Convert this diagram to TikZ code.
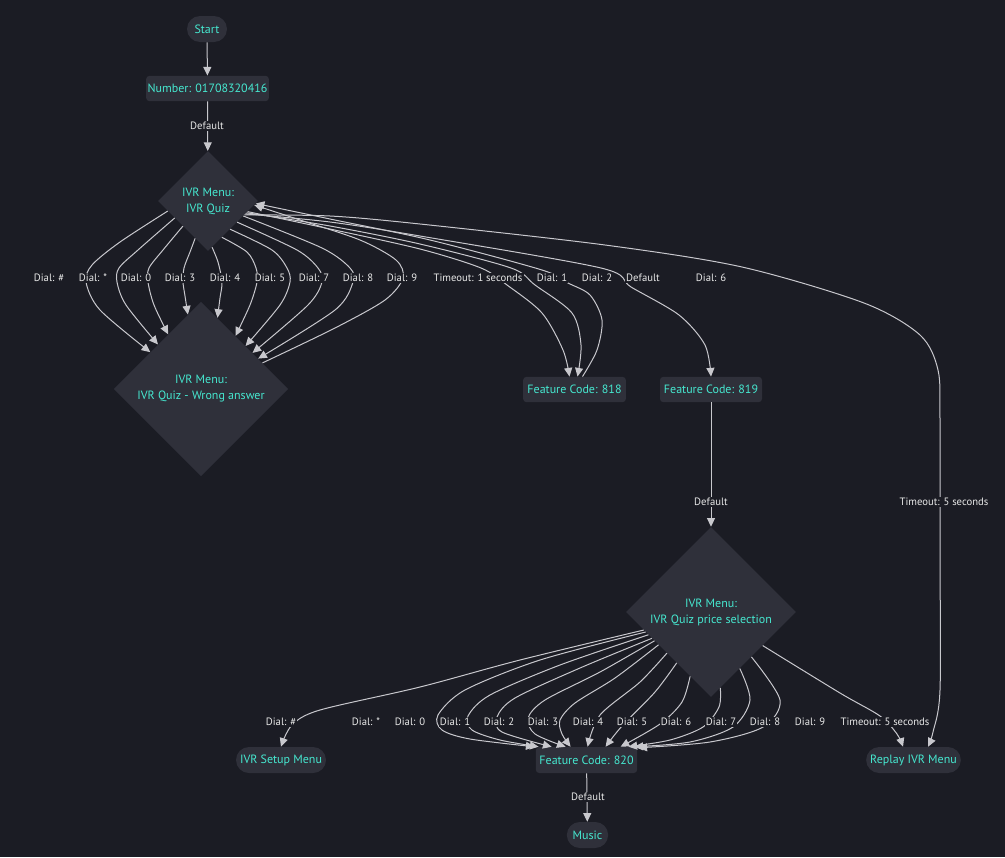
\documentclass[tikz,border=0pt]{standalone}
\usepackage{fontspec}
\setmainfont{PT Sans}
\usetikzlibrary{shapes.geometric,arrows.meta,calc}
\definecolor{bgc}{RGB}{27,28,36}
\definecolor{nodefill}{RGB}{47,48,58}
\definecolor{nodetext}{RGB}{70,232,208}
\definecolor{edgecol}{RGB}{200,200,205}
\definecolor{labelcol}{RGB}{232,232,232}
\begin{document}
\begin{tikzpicture}[x=0.75pt,y=-0.75pt,
 box/.style={fill=nodefill, rounded corners=2.5pt, text=nodetext, font=\fontsize{9}{11}\selectfont, minimum height=19pt, inner sep=0pt},
 pill/.style={fill=nodefill, rounded corners=9.75pt, text=nodetext, font=\fontsize{9}{11}\selectfont, minimum height=19.5pt, inner sep=0pt},
 dia/.style={diamond, shape aspect=1, fill=nodefill, text=nodetext, align=center, inner sep=0pt, font=\fontsize{9}{12}\selectfont},
 lbl/.style={fill=bgc, text=labelcol, inner sep=1pt, font=\fontsize{8}{9}\selectfont},
 edge/.style={draw=edgecol, line width=0.75pt, -{Triangle[length=6.5pt,width=6pt]}},
 plain/.style={draw=edgecol, line width=0.75pt}]
\fill[bgc] (0,0) rectangle (1005,857);
\useasboundingbox (0,0) rectangle (1005,857);
% nodes
\node[pill, minimum width=30pt] (start) at (207,29) {Start};
\node[box, minimum width=92pt] (num) at (207.5,88.5) {Number: 01708320416};
\node[dia, minimum width=75pt, minimum height=75pt] (q) at (208,201) {IVR Menu:\\IVR Quiz};
\node[dia, minimum width=131pt, minimum height=131pt] (w) at (201,389) {IVR Menu:\\IVR Quiz - Wrong answer};
\node[box, minimum width=77pt] (f818) at (574.5,389.5) {Feature Code: 818};
\node[box, minimum width=76.5pt] (f819) at (711,389.5) {Feature Code: 819};
\node[dia, minimum width=127.5pt, minimum height=127.5pt] (p) at (711,612) {IVR Menu:\\IVR Quiz price selection};
\node[pill, minimum width=67.5pt] (setup) at (281,760) {IVR Setup Menu};
\node[box, minimum width=76pt, minimum height=19.5pt] (f) at (586.5,760) {Feature Code: 820};
\node[pill, minimum width=71pt] (r) at (913.5,760) {Replay IVR Menu};
\node[pill, minimum width=31pt] (music) at (587.5,835) {Music};
% straight edges
\draw[edge] (start) -- (num);
\draw[edge] (num) -- (q);
\draw[edge] (f819) -- (p);
\draw[edge] (f) -- (music);
% Q -> W
\draw[edge] plot[smooth] coordinates {(q.194) (120,242) (92,265) (86,282) (100,310) (w.144)};
\draw[edge] plot[smooth] coordinates {(q.207) (138,250) (119,268) (117,282) (126,305) (w.134)};
\draw[edge] plot[smooth] coordinates {(q.225) (163,250) (149,268) (148,282) (154,305) (w.121)};
\draw[edge] plot[smooth] coordinates {(q.251) (190,252) (184,268) (183,282) (185,296) (w.100)};
\draw[edge] plot[smooth] coordinates {(q.275) (218,262) (222,282) (220,298) (w.77)};
\draw[edge] plot[smooth] coordinates {(q.291) (247,252) (256,268) (257,282) (250,305) (w.57)};
\draw[edge] plot[smooth] coordinates {(q.308) (272,250) (287,268) (290,282) (280,305) (w.44)};
\draw[edge] plot[smooth] coordinates {(q.324) (297,250) (318,268) (322,282) (308,305) (w.35)};
\draw[edge] plot[smooth] coordinates {(q.337) (322,248) (350,268) (353,282) (335,310) (w.28)};
% W -> Q back edge
\draw[edge] plot[smooth] coordinates {(w.23) (335,328) (385,300) (403,278) (396,260) (360,240) (300,220) (q.355)};
% Q -> 818, 819, replay
\draw[edge] plot[smooth] coordinates {(q.345) (330,229) (420,249) (481,268) (507,285) (542,313) (563,350) ($(f818.north)+(-5,0)$)};
\draw[edge] plot[smooth] coordinates {(q.343) (330,226) (420,244) (511,268) (535,285) (572,313) (581,345) ($(f818.north)+(3,0)$)};
\draw[edge] plot[smooth] coordinates {($(f818.north)+(8,0)$) (597,350) (602,320) (590,295) (568,283) (542,270) (430,240) (330,219) (q.357)};
\draw[edge] plot[smooth] coordinates {(q.341) (330,222) (420,236) (601,268) (631,287) (679,315) (705,345) (f819.north)};
\draw[edge] plot[smooth] coordinates {(q.339) (330,216) (420,224) (605,245) (742,267) (864,303) (920,335) (938,370) (940,420) (940,550) (940,690) (933,732) ($(r.north)+(14.5,0)$)};
% P -> setup, replay
\draw[edge] plot[smooth] coordinates {(p.195) (520,660) (420,687) (320,710) (292,725) (setup.north)};
\draw[edge] plot[smooth] coordinates {(p.327) (840,693) (880,716) (897,734) ($(r.north)+(-10.5,0)$)};
% P -> F
\draw[edge] plot[smooth] coordinates {(p.197) (540,660) (465,690) (438,715) (442,730) (470,739) ($(f.north west)+(-1,0)$)};
\draw[edge] plot[smooth] coordinates {(p.200) (560,665) (490,695) (468,716) (472,730) (500,740) ($(f.north west)+(3,0)$)};
\draw[edge] plot[smooth] coordinates {(p.204) (580,668) (515,698) (497,717) (502,732) ($(f.north west)+(16,0)$)};
\draw[edge] plot[smooth] coordinates {(p.207) (600,672) (545,700) (528,718) (535,734) ($(f.north west)+(30,0)$)};
\draw[edge] plot[smooth] coordinates {(p.212) (615,678) (575,703) (560,720) (562,734) ($(f.north west)+(35,0)$)};
\draw[edge] plot[smooth] coordinates {(p.223) (640,682) (600,715) ($(f.north west)+(52,0)$)};
\draw[edge] plot[smooth] coordinates {(p.236) (655,692) (622,726) ($(f.north west)+(70,0)$)};
\draw[edge] plot[smooth] coordinates {(p.252) (682,702) (660,724) ($(f.north west)+(85,0)$)};
\draw[edge] plot[smooth] coordinates {(p.277) (719,707) (703,727) (670,740) ($(f.north east)+(-9,0)$)};
\draw[edge] plot[smooth] coordinates {(p.297) (750,700) (733,727) (690,742) ($(f.north east)+(-3,0)$)};
\draw[edge] plot[smooth] coordinates {(p.312) (780,700) (763,727) (710,742) ($(f.north east)+(1,1)$)};
% labels
\node[lbl] at (207,126) {Default};
\node[lbl] at (711,502) {Default};
\node[lbl] at (944,502) {Timeout: 5 seconds};
\node[lbl] at (588,797) {Default};
\foreach \x/\t in {49/{Dial: \#},93/{Dial: *},136/{Dial: 0},180/{Dial: 3},225/{Dial: 4},270/{Dial: 5},314/{Dial: 7},358/{Dial: 8},402/{Dial: 9},478/{Timeout: 1 seconds},552/{Dial: 1},597/{Dial: 2},643/{Default},711/{Dial: 6}}
  \node[lbl] at (\x,278) {\t};
\foreach \x/\t in {281/{Dial: \#},366/{Dial: *},410/{Dial: 0},455/{Dial: 1},499/{Dial: 2},543/{Dial: 3},588/{Dial: 4},632/{Dial: 5},676/{Dial: 6},721/{Dial: 7},765/{Dial: 8},810/{Dial: 9},885/{Timeout: 5 seconds}}
  \node[lbl] at (\x,722) {\t};
\end{tikzpicture}
\end{document}
